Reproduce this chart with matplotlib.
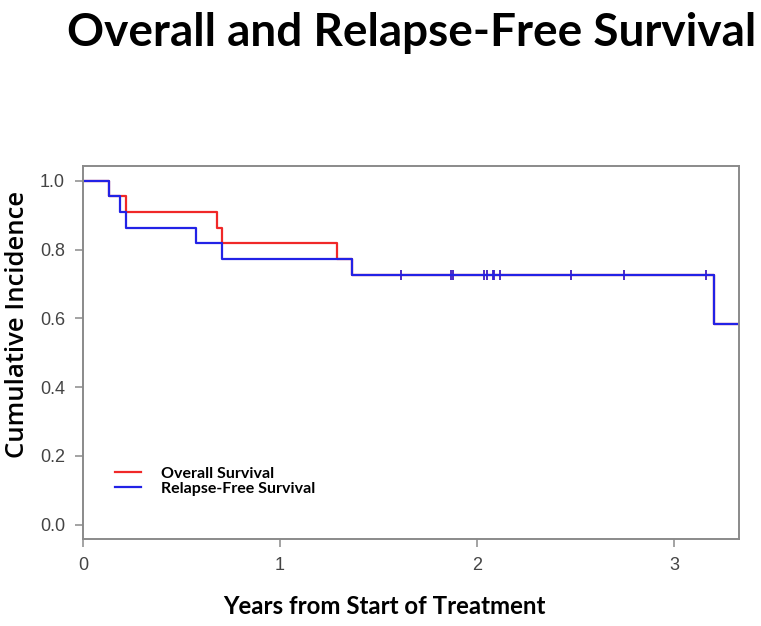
import numpy as np
import matplotlib
matplotlib.use("Agg")
import matplotlib.pyplot as plt

# Kaplan-Meier steps (years, survival)
os_times = [0.134, 0.217, 0.678, 0.707, 1.288, 1.367, 3.205]
os_surv = [1.0, 0.955, 0.909, 0.864, 0.818, 0.773, 0.727, 0.582]

rfs_times = [0.134, 0.190, 0.217, 0.574, 0.707, 1.367, 3.205]
rfs_surv = [1.0, 0.955, 0.909, 0.864, 0.818, 0.773, 0.727, 0.582]

# censored patients (same for both curves)
censor_times = [1.612, 1.866, 1.880, 2.036, 2.049, 2.080, 2.088, 2.117,
                2.476, 2.746, 3.162]
last_followup = 3.4

x_ticks = [0, 1, 2, 3]
y_ticks = [0.0, 0.2, 0.4, 0.6, 0.8, 1.0]

RED = "#f02828"
BLUE = "#2222e6"
GREY = "#8a8a8a"


def step_xy(times, surv):
    x = np.array([0.0] + list(times) + [last_followup])
    y = np.array(list(surv) + [surv[-1]])
    return x, y


def value_at(times, surv, t):
    idx = np.searchsorted(np.array(times), t, side="right")
    return np.array(surv)[idx]


fig = plt.figure(figsize=(7.61, 6.26), dpi=100)
ax = fig.add_axes([83 / 761, 1 - 539 / 626, 656 / 761, 373 / 626])

for times, surv, col, lab in [(os_times, os_surv, RED, "Overall Survival"),
                              (rfs_times, rfs_surv, BLUE, "Relapse-Free Survival")]:
    x, y = step_xy(times, surv)
    ax.step(x, y, where="post", color=col, lw=1.6, label=lab)
    ct = np.array(censor_times)
    ax.plot(ct, value_at(times, surv, ct), ls="none", marker="|",
            ms=7, mew=1.1, color=col)

ax.set_xlim(0, 3.33)
ax.set_ylim(-0.042, 1.043)
ax.set_xticks(x_ticks)
ax.set_xticklabels([str(v) for v in x_ticks])
ax.set_yticks(y_ticks)
ax.set_yticklabels([f"{v:.1f}" for v in y_ticks])
for s in ax.spines.values():
    s.set_color(GREY)
    s.set_linewidth(1.4)
ax.tick_params(direction="out", length=6, width=1.1, color=GREY,
               labelcolor="#444444", labelsize=13, pad=7)
for lbl in ax.get_xticklabels() + ax.get_yticklabels():
    lbl.set_family("Liberation Sans")

leg = ax.legend(loc="upper left", bbox_to_anchor=(0.036, 0.216), frameon=False,
                handlelength=1.63, handletextpad=1.25, labelspacing=0.05,
                borderpad=0, prop={"family": "Lato", "weight": "bold", "size": 11.5})

fig.text(0.541, 1 - 46 / 626, "Overall and Relapse-Free Survival", ha="center",
         va="baseline", fontsize=33, fontweight="bold", family="Lato")
fig.text(384 / 761, 1 - 607 / 626, "Years from Start of Treatment", ha="center",
         va="center", fontsize=17.3, fontweight="bold", family="Lato")
fig.text(18 / 761, 1 - 324 / 626, "Cumulative Incidence", ha="center",
         va="center", rotation=90, fontsize=18.5, fontweight="semibold",
         family="Open Sans")

fig.savefig("out.png", dpi=100)
